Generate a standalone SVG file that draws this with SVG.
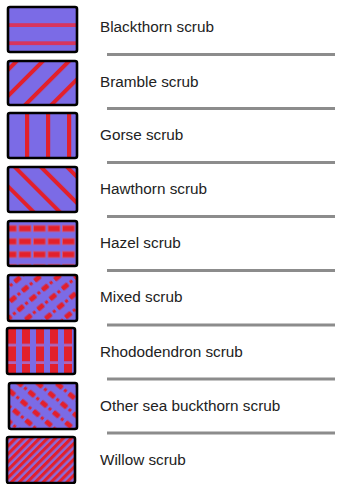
<svg xmlns="http://www.w3.org/2000/svg" width="339" height="484" viewBox="0 0 339 484">
<style>
.bg{fill:#7b6be6}
.frame{fill:none;stroke:#000;stroke-width:2.6}
.red{fill:#e2202c}
.lbl{font-family:"Liberation Sans",Arial,sans-serif;font-size:15.3px;fill:#222}
.sep{stroke:#8c8c8c;stroke-width:3}
</style>
<defs>
<clipPath id="clip" clipPathUnits="userSpaceOnUse"><rect x="0" y="0" width="69" height="45" rx="2"/></clipPath>
<pattern id="pBramble" patternUnits="userSpaceOnUse" width="18.5" height="10" patternTransform="translate(6,0) rotate(45)">
<rect width="18.5" height="10" fill="#7b6be6"/><rect x="0" y="0" width="4" height="10" fill="#e2202c"/>
</pattern>
<pattern id="pHawthorn" patternUnits="userSpaceOnUse" width="18.5" height="10" patternTransform="translate(4,0) rotate(-45)">
<rect width="18.5" height="10" fill="#7b6be6"/><rect x="0" y="0" width="4" height="10" fill="#e2202c"/>
</pattern>
<pattern id="pHazel" patternUnits="userSpaceOnUse" width="14.5" height="13" patternTransform="translate(-4,-0.5)">
<rect width="14.5" height="13" fill="#7b6be6"/><rect x="0.5" y="5" width="12" height="6" fill="#e2202c" stroke="#d8556f" stroke-width="0.8"/>
</pattern>
<pattern id="pMixed" patternUnits="userSpaceOnUse" width="16" height="12" patternTransform="translate(2,3) rotate(-40)">
<rect width="16" height="12" fill="#7b6be6"/><rect x="1" y="3.5" width="7.5" height="5" rx="1" fill="#e2202c"/><rect x="11" y="4.5" width="3" height="3" fill="#e2202c"/>
</pattern>
<pattern id="pRhodo" patternUnits="userSpaceOnUse" width="14" height="17.5" patternTransform="translate(1,1)">
<rect width="14" height="17.5" fill="#7b6be6"/><rect x="0" y="0" width="8" height="15" fill="#e2202c"/><rect x="0" y="15" width="8" height="2.5" fill="#b064b8"/>
</pattern>
<pattern id="pSea" patternUnits="userSpaceOnUse" width="16" height="12" patternTransform="translate(3,2) rotate(40)">
<rect width="16" height="12" fill="#7b6be6"/><rect x="1" y="3.5" width="7.5" height="5" rx="1" fill="#e2202c"/><rect x="11" y="4.5" width="3" height="3" fill="#e2202c"/>
</pattern>
<pattern id="pWillow" patternUnits="userSpaceOnUse" width="10" height="5.6" patternTransform="rotate(-45)">
<rect width="10" height="5.6" fill="#8a6bd8"/><rect x="0" y="0" width="10" height="3.1" fill="#e2202c"/>
</pattern>
</defs>

<g id="node-blackthorn" transform="translate(8,7)">
<rect class="bg" width="69" height="45" rx="2"/>
<g clip-path="url(#clip)"><rect x="0" y="16.2" width="69" height="3.8" fill="#d8345e"/><rect x="0" y="34.3" width="69" height="3.8" fill="#d8345e"/></g>
<rect class="frame" width="69" height="45" rx="2"/>
<text class="lbl" x="92" y="25">Blackthorn scrub</text>
</g>

<g id="node-bramble" transform="translate(8,61)">
<rect width="69" height="44" rx="2" fill="url(#pBramble)"/>
<rect class="frame" width="69" height="44" rx="2"/>
<text class="lbl" x="92" y="25.5">Bramble scrub</text>
</g>

<g id="node-gorse" transform="translate(8,113)">
<rect class="bg" width="69" height="45" rx="2"/>
<g clip-path="url(#clip)"><rect class="red" x="17" y="0" width="4.2" height="45"/><rect class="red" x="38" y="0" width="4.2" height="45"/><rect class="red" x="59" y="0" width="4.2" height="45"/></g>
<rect class="frame" width="69" height="45" rx="2"/>
<text class="lbl" x="92" y="27">Gorse scrub</text>
</g>

<g id="node-hawthorn" transform="translate(8,167)">
<rect width="69" height="45" rx="2" fill="url(#pHawthorn)"/>
<rect class="frame" width="69" height="45" rx="2"/>
<text class="lbl" x="92" y="27">Hawthorn scrub</text>
</g>

<g id="node-hazel" transform="translate(8,221)">
<rect width="69" height="45" rx="2" fill="url(#pHazel)"/>
<rect class="frame" width="69" height="45" rx="2"/>
<text class="lbl" x="92" y="27">Hazel scrub</text>
</g>

<g id="node-mixed" transform="translate(8,275)">
<rect width="69" height="46" rx="2" fill="url(#pMixed)"/>
<rect class="frame" width="69" height="46" rx="2"/>
<text class="lbl" x="92" y="27">Mixed scrub</text>
</g>

<g id="node-rhododendron" transform="translate(7,328)">
<rect width="68" height="46" rx="2" fill="url(#pRhodo)"/>
<rect class="frame" width="68" height="46" rx="2"/>
<text class="lbl" x="93" y="28.5">Rhododendron scrub</text>
</g>

<g id="node-seabuckthorn" transform="translate(9,383)">
<rect width="68" height="46" rx="2" fill="url(#pSea)"/>
<rect class="frame" width="68" height="46" rx="2"/>
<text class="lbl" x="91" y="28">Other sea buckthorn scrub</text>
</g>

<g id="node-willow" transform="translate(7,437)">
<rect width="68" height="46" rx="2" fill="url(#pWillow)"/>
<rect class="frame" width="68" height="46" rx="2"/>
<text class="lbl" x="93" y="28">Willow scrub</text>
</g>

<g id="connectors">
<line class="sep" x1="107" y1="54.5" x2="335" y2="54.5"/>
<line class="sep" x1="107" y1="108.5" x2="335" y2="108.5"/>
<line class="sep" x1="107" y1="162.5" x2="335" y2="162.5"/>
<line class="sep" x1="107" y1="216.5" x2="335" y2="216.5"/>
<line class="sep" x1="107" y1="270.5" x2="335" y2="270.5"/>
<line class="sep" x1="107" y1="325" x2="335" y2="325"/>
<line class="sep" x1="107" y1="379" x2="335" y2="379"/>
<line class="sep" x1="107" y1="433" x2="335" y2="433"/>
</g>
</svg>
